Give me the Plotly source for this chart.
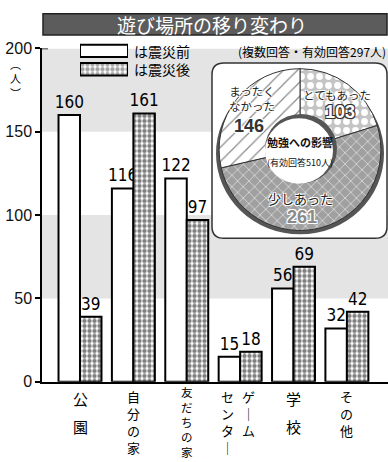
import plotly.graph_objects as go

# ---------------- data ----------------
categories = ["公園", "自分の家", "友だちの家", "ゲームセンター", "学校", "その他"]
# vertical label columns (drawn right-to-left)
label_columns = [["公園"], ["自分の家"], ["友だちの家"], ["ゲーム", "センター"], ["学校"], ["その他"]]
before = [160, 116, 122, 15, 56, 32]
after = [39, 161, 97, 18, 69, 42]
series_names = ["は震災前", "は震災後"]

pie_labels = ["とてもあった", "少しあった", "まったく\nなかった"]
pie_values = [103, 261, 146]

y_ticks = [0, 50, 100, 150, 200]
y_unit = "人"
title_text = "遊び場所の移り変わり"
note_text = "(複数回答・有効回答297人)"
pie_title = "勉強への影響"
pie_sub = "(有効回答510人)"

# ---------------- geometry helpers ----------------
W, H = 388, 462
def X(px):
    return px / W
def Y(py):
    return (H - py) / H

JP = "Noto Sans CJK JP, Noto Sans, sans-serif"
NUM = "Liberation Sans Narrow, DejaVu Sans Condensed, Liberation Sans, Arial, sans-serif"
SANS = "Liberation Sans, Arial, sans-serif"

fig = go.Figure()

fig.add_trace(go.Bar(
    x=list(range(len(categories))), y=before, name=series_names[0],
    marker=dict(color="white", line=dict(color="black", width=2)),
    text=[str(v) for v in before], textposition="outside", constraintext="none",
    textfont=dict(family=NUM, size=17, color="black"), cliponaxis=False,
    showlegend=False, hoverinfo="skip",
))
fig.add_trace(go.Bar(
    x=list(range(len(categories))), y=after, name=series_names[1],
    marker=dict(color="white", line=dict(color="black", width=2),
                pattern=dict(shape=".", fgcolor="black", bgcolor="white", size=5, solidity=0.6)),
    text=[str(v) for v in after], textposition="outside", constraintext="none",
    textfont=dict(family=NUM, size=17, color="black"), cliponaxis=False,
    showlegend=False, hoverinfo="skip",
))

# legend swatches on their own small axes
fig.add_trace(go.Bar(
    x=[1, 1], y=[0, 1], orientation="h", width=0.68,
    marker=dict(color=["white", "white"], line=dict(color="black", width=2),
                pattern=dict(shape=["", "."], fgcolor="black", bgcolor="white", size=5, solidity=0.6)),
    xaxis="x2", yaxis="y2", showlegend=False, hoverinfo="skip",
))

# donut
fig.add_trace(go.Pie(
    labels=pie_labels, values=pie_values, sort=False, direction="clockwise", rotation=0,
    hole=0.41, textinfo="none", hoverinfo="skip", showlegend=False,
    domain=dict(x=[X(216), X(384)], y=[Y(231), Y(63)]),
    marker=dict(
        colors=["#c8c8c8", "#a2a2a2", "white"],
        line=dict(color="#333333", width=1),
        pattern=dict(shape=[".", "x", "/"],
                     fgcolor=["white", "#efefef", "#8a8a8a"],
                     bgcolor=["#c4c4c4", "#a0a0a0", "white"],
                     size=[9, 8, 10], solidity=[0.45, 0.15, 0.12]),
    ),
))

# ---------------- shapes ----------------
def rounded_rect(x0, y0, x1, y1, r):
    pts = [
        f"M {X(x0 + r)},{Y(y0)}",
        f"L {X(x1 - r)},{Y(y0)}",
        f"Q {X(x1)},{Y(y0)} {X(x1)},{Y(y0 + r)}",
        f"L {X(x1)},{Y(y1 - r)}",
        f"Q {X(x1)},{Y(y1)} {X(x1 - r)},{Y(y1)}",
        f"L {X(x0 + r)},{Y(y1)}",
        f"Q {X(x0)},{Y(y1)} {X(x0)},{Y(y1 - r)}",
        f"L {X(x0)},{Y(y0 + r)}",
        f"Q {X(x0)},{Y(y0)} {X(x0 + r)},{Y(y0)}",
    ]
    return " ".join(pts) + " Z"

def circle(cx, cy, r, **kw):
    return dict(type="circle", xref="paper", yref="paper",
                x0=X(cx - r), x1=X(cx + r), y0=Y(cy + r), y1=Y(cy - r), **kw)

shapes = [
    dict(type="rect", xref="paper", yref="y", x0=X(42), x1=1, y0=150, y1=200,
         fillcolor="#e4e4e4", line=dict(width=0), layer="below"),
    dict(type="rect", xref="paper", yref="y", x0=X(42), x1=1, y0=50, y1=100,
         fillcolor="#e4e4e4", line=dict(width=0), layer="below"),
    dict(type="path", xref="paper", yref="paper", path=rounded_rect(212, 57, 387, 239, 12),
         fillcolor="white", line=dict(color="#333333", width=1.5), layer="below"),
    circle(300, 151, 84, fillcolor="#555555", line=dict(width=0), layer="below"),
    circle(301, 146, 36, fillcolor="#555555", line=dict(width=0), layer="above"),
    circle(299, 148.5, 34, fillcolor="white", line=dict(width=0), layer="above"),
    dict(type="rect", xref="paper", yref="paper", x0=X(43), x1=X(387), y0=Y(28), y1=Y(6),
         fillcolor="#5c5c5c", line=dict(color="#222222", width=1.5), layer="above"),
    dict(type="line", xref="paper", yref="y", x0=X(42), x1=X(48), y0=200, y1=200,
         line=dict(color="black", width=1.5)),
]

# ---------------- annotations ----------------
ann = []
def A(text, x, y, size, family=JP, color="black", xanchor="center", xref="paper", **kw):
    d = dict(text=text, xref=xref, yref="paper", x=x, y=y, showarrow=False,
             xanchor=xanchor, yanchor="middle",
             font=dict(family=family, size=size, color=color, **kw.pop("fontkw", {})))
    d.update(kw)
    ann.append(d)

A(title_text, X(212), Y(17), 19, color="white")

# vertical unit label (︵人︶)
A("︵<br>" + y_unit + "<br>︶", X(15), Y(73), 11)

for name, yy in zip(series_names, [44.5, 63.5]):
    A(name, X(132), Y(yy), 14, xanchor="left")
A(note_text, X(388), Y(45), 12, xanchor="right")

# category labels written vertically
for i, cols in enumerate(label_columns):
    col_shift = [0] if len(cols) == 1 else [8, -13]
    for c, col in enumerate(cols):
        chars = ["｜" if ch == "ー" else ch for ch in col]
        n = len(chars)
        if n == 2:
            for k, ch in enumerate(chars):
                A(ch, i, Y(405 + k * 30), 15, xref="x", xshift=col_shift[c])
        else:
            size = 13 if n < 5 else 11.5
            top = 404 if n < 5 else 400
            yc = top + (n - 1) * 1.3 * size / 2
            A("<br>".join(chars), i, Y(yc), size, xref="x", xshift=col_shift[c])

outline_w = "1px 1px 0 #fff, -1px -1px 0 #fff, 1px -1px 0 #fff, -1px 1px 0 #fff"
outline_d = "1px 1px 0 #333, -1px -1px 0 #333, 1px -1px 0 #333, -1px 1px 0 #333"
label_pos = [(337, 90, 11.5), (300, 198, 13), (252, 94, 11.5)]
num_pos = [(340, 108), (302, 217), (249, 123)]
num_style = [("white", outline_d), ("#8a8a8a", outline_w), ("#333333", outline_w)]
for lab, val, (lx, ly, ls), (nx, ny), (ncol, nsh) in zip(pie_labels, pie_values, label_pos, num_pos, num_style):
    A(lab.replace("\n", "<br>"), X(lx), Y(ly), ls, color="#222222", fontkw=dict(shadow=outline_w))
    A(f"<b>{val}</b>", X(nx), Y(ny), 18, family=SANS, color=ncol, fontkw=dict(shadow=nsh))

A(f"<b>{pie_title}</b>", X(300), Y(139), 11, color="#111111")
A(pie_sub, X(300), Y(160), 9, color="#111111")

fig.update_layout(
    width=W, height=H, margin=dict(l=0, r=0, t=0, b=0),
    paper_bgcolor="white", plot_bgcolor="rgba(0,0,0,0)",
    barmode="group", bargap=0.195, bargroupgap=0,
    shapes=shapes, annotations=ann,
    xaxis=dict(domain=[X(42), 1], range=[-0.712, 5.77], showline=True, linecolor="black",
               linewidth=1.5, showticklabels=False, ticks="", showgrid=False, zeroline=False,
               fixedrange=True),
    yaxis=dict(domain=[Y(388), Y(42)], range=[0, 200], tickvals=y_ticks, ticks="outside",
               ticklen=5, tickwidth=1.5, tickcolor="black", showline=True, linecolor="black",
               linewidth=1.5, showgrid=False, zeroline=False,
               tickfont=dict(family=SANS, size=16, color="#111111"), fixedrange=True),
    xaxis2=dict(domain=[X(80), X(128)], range=[0, 1], anchor="y2", visible=False, fixedrange=True),
    yaxis2=dict(domain=[Y(73), Y(35)], range=[1.5, -0.5], anchor="x2", visible=False, fixedrange=True),
)

fig.write_html("out.html")
